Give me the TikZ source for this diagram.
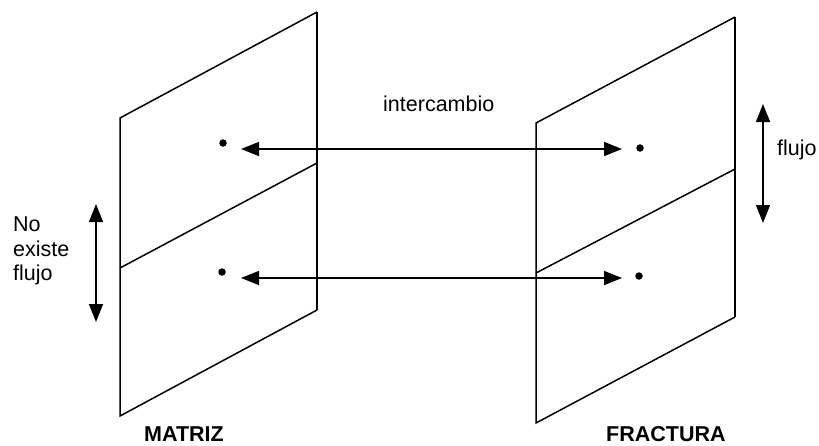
\documentclass[tikz,border=0pt]{standalone}
\usepackage{fontspec}
\setmainfont{Liberation Sans}
\usetikzlibrary{arrows.meta}
\tikzset{
  plane/.style={line width=1.5pt, line join=miter},
  link/.style={line width=1.5pt, {Triangle[length=18pt,width=14pt]}-{Triangle[length=18pt,width=14pt]}},
  dotmark/.style={circle, fill=black, inner sep=0pt, minimum size=7.5pt},
  lbl/.style={anchor=base west, inner sep=0pt, font=\fontsize{21.5}{24.5}\selectfont},
  title/.style={anchor=base west, inner sep=0pt, font=\fontsize{21.5}{24}\selectfont\bfseries},
}
\begin{document}
\begin{tikzpicture}[x=1pt,y=-1pt]
\useasboundingbox (0,0) rectangle (819,445);
% left plane (matriz)
\coordinate (L1) at (120,118);
\coordinate (L2) at (317,12);
\coordinate (L3) at (317,310);
\coordinate (L4) at (120,416);
\coordinate (Lm1) at (120,268);
\coordinate (Lm2) at (317,163);
\draw[plane] (L2) -- (L1) -- (L4) -- (L3);
\draw[plane] (L2) -- (L3);
\draw[plane] (Lm1) -- (Lm2);
% right plane (fractura)
\coordinate (R1) at (536,123);
\coordinate (R2) at (735,17);
\coordinate (R3) at (735,317);
\coordinate (R4) at (536,423);
\coordinate (Rm1) at (536,273);
\coordinate (Rm2) at (735,169);
\draw[plane] (R2) -- (R1) -- (R4) -- (R3);
\draw[plane] (R2) -- (R3);
\draw[plane] (Rm1) -- (Rm2);
% dots
\node[dotmark] (da) at (223,143) {};
\node[dotmark] (db) at (640,148) {};
\node[dotmark] (dc) at (222,272) {};
\node[dotmark] (dd) at (639,276) {};
% exchange arrows
\coordinate (a1) at (241,149);
\coordinate (a2) at (622,149);
\coordinate (b1) at (241,278);
\coordinate (b2) at (622,278);
\draw[link] (a1) -- (a2);
\draw[link] (b1) -- (b2);
% vertical arrows
\coordinate (v1) at (96,204);
\coordinate (v2) at (96,322);
\draw[link] (v1) -- (v2);
\coordinate (w1) at (763,104);
\coordinate (w2) at (763,223);
\draw[link] (w1) -- (w2);
% labels
\node[lbl] (t1) at (383,111) {intercambio};
\node[lbl] (t2) at (777,155) {flujo};
\node[lbl] (t3) at (13,231) {No};
\node[lbl] (t4) at (13,256) {existe};
\node[lbl] (t5) at (13,280) {flujo};
\node[title] (m) at (144,441) {MATRIZ};
\node[title] (f) at (606,441) {FRACTURA};
\end{tikzpicture}
\end{document}
